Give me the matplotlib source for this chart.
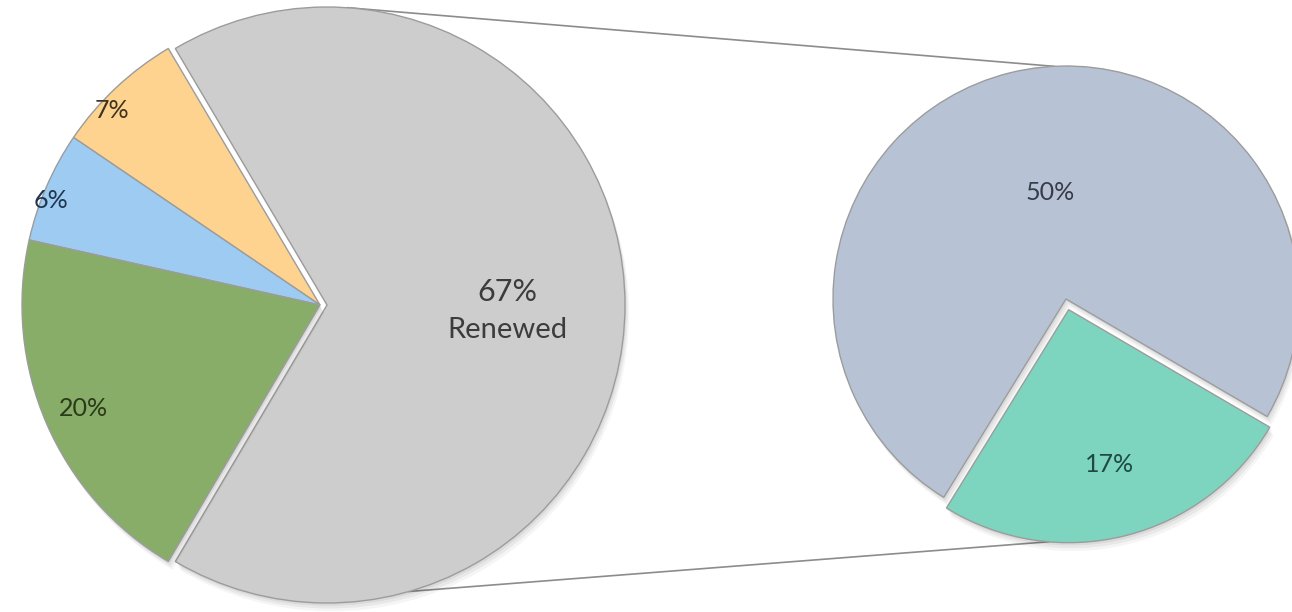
import numpy as np
import matplotlib
matplotlib.use("Agg")
import matplotlib.pyplot as plt
import matplotlib.patheffects as pe

# Overall split of accounts
main_labels = ["Renewed", "Other A", "Other B", "Other C"]
main_values = [67, 7, 6, 20]
main_colors = ["#cdcdcd", "#fdd38f", "#9ecbf2", "#88ad68"]
main_text_colors = ["#3c3c3c", "#3d3320", "#1f3550", "#2a3a1a"]

# Breakdown of the renewed share
detail_values = [50, 17]
detail_colors = ["#b7c3d5", "#7dd5bf"]
detail_text_colors = ["#363c48", "#1f4a40"]

W, H = 1292, 612
fig = plt.figure(figsize=(W / 100, H / 100), dpi=100)
ax = fig.add_axes([0, 0, 1, 1])

edge = dict(edgecolor="#9c9c9c", linewidth=1.0)
# soft drop shadow built from a few faint offset copies
shadow = [pe.SimplePatchShadow(offset=(1, -2), shadow_rgbFace="#000000", alpha=0.06),
          pe.SimplePatchShadow(offset=(2, -4), shadow_rgbFace="#000000", alpha=0.05),
          pe.SimplePatchShadow(offset=(3, -6), shadow_rgbFace="#000000", alpha=0.04),
          pe.Normal()]

# Left pie
L_c, L_r = (320, H - 305), 298
L_start = -120.6
L_expl = [7, 0, 0, 0]
wl, _ = ax.pie(main_values, colors=main_colors, startangle=L_start, counterclock=True,
               center=L_c, radius=L_r, explode=L_expl, wedgeprops=edge, frame=True)
for w in wl:
    w.set_path_effects(shadow)

# Right pie
R_c, R_r = (1066, H - 299), 233
R_start = -30.3
R_expl = [0, 11]
wr, _ = ax.pie(detail_values, colors=detail_colors, startangle=R_start, counterclock=True,
               center=R_c, radius=R_r, explode=R_expl, wedgeprops=edge, frame=True)
for w in wr:
    w.set_path_effects(shadow)

ax.set_xlim(0, W)
ax.set_ylim(0, H)
ax.set_aspect("equal")
ax.axis("off")

# Connector lines between the renewed slice and the breakdown pie
def rim(wedge, ang):
    cx, cy = wedge.center
    r = wedge.r
    a = np.deg2rad(ang)
    return cx + r * np.cos(a), cy + r * np.sin(a)

p1 = rim(wl[0], 86)
p2 = rim(wr[0], 93)
p3 = rim(wl[0], -74)
p4 = rim(wr[1], -95)
for a, b in [(p1, p2), (p3, p4)]:
    ax.plot([a[0], b[0]], [a[1], b[1]], color="#8c8c8c", lw=1.2, zorder=0)

font = "Lato"
big = 22
small = 18
ax.text(507, H - 292, f"{main_values[0]}%", ha="center", va="center", fontsize=big,
        color=main_text_colors[0], family=font)
ax.text(507, H - 330, main_labels[0], ha="center", va="center", fontsize=big - 1,
        color=main_text_colors[0], family=font)
ax.text(112, H - 110, f"{main_values[1]}%", ha="center", va="center", fontsize=small,
        color=main_text_colors[1], family=font)
ax.text(51, H - 200, f"{main_values[2]}%", ha="center", va="center", fontsize=small,
        color=main_text_colors[2], family=font)
ax.text(83, H - 408, f"{main_values[3]}%", ha="center", va="center", fontsize=small,
        color=main_text_colors[3], family=font)
ax.text(1050, H - 193, f"{detail_values[0]}%", ha="center", va="center", fontsize=small,
        color=detail_text_colors[0], family=font)
ax.text(1110, H - 465, f"{detail_values[1]}%", ha="center", va="center", fontsize=small,
        color=detail_text_colors[1], family=font)

fig.savefig("out.png", dpi=100, facecolor="white")
